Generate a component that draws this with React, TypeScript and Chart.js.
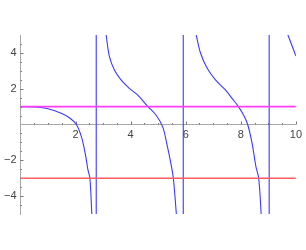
import React, { useEffect, useRef } from 'react';
import { Chart, registerables } from 'chart.js';

Chart.register(...registerables);

// Axis ticks and labels
const xTicks = [2, 4, 6, 8, 10];
const xTickLabels = ['2', '4', '6', '8', '10'];
const yTicks = [-4, -2, 2, 4];
const yTickLabels = ['\u22124', '\u22122', '2', '4'];
const minorStep = 0.5;
const xRange = [0, 10];
const yRange = [-5, 5];

// Curve branches
const branch1X = [0, 0.5, 1.0, 1.5, 1.8, 2.03, 2.21, 2.35, 2.45, 2.52, 2.59];
const branch1Y = [1.0, 0.98, 0.88, 0.62, 0.35, 0, -0.68, -1.61, -2.54, -3.0, -5.0];
const branch2X = [3.11, 3.23, 3.41, 3.65, 3.95, 4.25, 4.61, 4.92, 5.16, 5.31, 5.46, 5.55, 5.66];
const branch2Y = [5.0, 3.79, 3.04, 2.49, 2.02, 1.65, 1.03, 0.53, -0.12, -1.05, -2.17, -3.0, -5.0];
const branch3X = [6.38, 6.54, 6.78, 7.08, 7.44, 7.68, 7.9, 8.1, 8.25, 8.41, 8.55, 8.65, 8.74];
const branch3Y = [5.0, 3.98, 3.14, 2.49, 1.93, 1.46, 1.03, 0.53, 0.0, -1.05, -2.36, -3.0, -5.0];
const branch4X = [9.71, 9.85, 10.0];
const branch4Y = [5.0, 4.44, 3.83];

// Vertical jump lines and horizontal reference levels
const jumpX = [2.75, 5.91, 9.03];
const levelY = [1, -3];

const CURVE = '#3a3aff';
const LEVEL_COLORS = ['#ff3cff', '#ff5c5c'];
const FONT = { family: 'Liberation Sans, Arial, sans-serif', size: 11 };
const LEFT_GUTTER = 20.5;

const zip = (xs: number[], ys: number[]) => xs.map((x, i) => ({ x, y: ys[i] }));

const tickPlugin = {
  id: 'mathTicks',
  beforeDatasetsDraw(chart: any) {
    const { ctx, scales } = chart;
    const xs = scales.x;
    const ys = scales.y;
    const x0 = xs.getPixelForValue(0);
    const y0 = ys.getPixelForValue(0);
    ctx.save();
    ctx.strokeStyle = '#777';
    ctx.lineWidth = 1;
    ctx.beginPath();
    for (let v = xRange[0] + minorStep; v <= xRange[1] + 1e-9; v += minorStep) {
      const px = Math.round(xs.getPixelForValue(v)) + 0.5;
      const len = xTicks.includes(v) ? 3 : 1.5;
      ctx.moveTo(px, y0);
      ctx.lineTo(px, y0 - len);
    }
    for (let v = yRange[0] + minorStep; v <= yRange[1] - minorStep + 1e-9; v += minorStep) {
      if (Math.abs(v) < 1e-9) continue;
      const py = Math.round(ys.getPixelForValue(v)) + 0.5;
      const len = yTicks.includes(v) ? 3 : 1.5;
      ctx.moveTo(x0, py);
      ctx.lineTo(x0 + len, py);
    }
    ctx.stroke();
    ctx.restore();
  },
};

export default function App() {
  const ref = useRef<HTMLCanvasElement>(null);
  useEffect(() => {
    const canvas = ref.current;
    if (!canvas) return;
    const curveStyle = {
      borderColor: CURVE,
      borderWidth: 1.1,
      pointRadius: 0,
      fill: false,
      tension: 0.35,
    };
    const datasets: any[] = [
      ...levelY.map((v, i) => ({
        data: [{ x: xRange[0], y: v }, { x: xRange[1], y: v }],
        borderColor: LEVEL_COLORS[i],
        borderWidth: 1.6,
        pointRadius: 0,
        fill: false,
      })),
      ...jumpX.map((v) => ({
        data: [{ x: v, y: yRange[0] }, { x: v, y: yRange[1] }],
        borderColor: CURVE,
        borderWidth: 1.1,
        pointRadius: 0,
        fill: false,
      })),
      { data: zip(branch1X, branch1Y), ...curveStyle },
      { data: zip(branch2X, branch2Y), ...curveStyle },
      { data: zip(branch3X, branch3Y), ...curveStyle },
      { data: zip(branch4X, branch4Y), ...curveStyle },
    ];
    const chart = new Chart(canvas, {
      type: 'line',
      data: { datasets },
      options: {
        animation: false,
        responsive: false,
        events: [],
        layout: { padding: { left: 0, right: 9, top: 35, bottom: 36 } },
        plugins: { legend: { display: false }, tooltip: { enabled: false } },
        scales: {
          x: {
            type: 'linear',
            min: xRange[0],
            max: xRange[1],
            position: { y: 0 } as any,
            afterFit: (s: any) => { s.height = 0; },
            afterBuildTicks: (s: any) => { s.ticks = xTicks.map((value) => ({ value })); },
            grid: { display: false, drawTicks: false },
            border: { display: true, color: '#a8a8a8', width: 1 },
            ticks: {
              autoSkip: false,
              maxRotation: 0,
              padding: 4,
              color: '#444',
              font: FONT,
              callback: (_v: any, i: number) => xTickLabels[i],
            },
          },
          y: {
            type: 'linear',
            min: yRange[0],
            max: yRange[1],
            position: 'left',
            afterFit: (s: any) => { s.width = LEFT_GUTTER; },
            afterBuildTicks: (s: any) => { s.ticks = yTicks.map((value) => ({ value })); },
            grid: { display: false, drawTicks: false },
            border: { display: true, color: '#a8a8a8', width: 1 },
            ticks: {
              autoSkip: false,
              padding: 4,
              color: '#444',
              font: FONT,
              callback: (_v: any, i: number) => yTickLabels[i],
            },
          },
        },
      },
      plugins: [tickPlugin],
    });
    return () => chart.destroy();
  }, []);
  return (
    <div style={{ position: 'fixed', left: 0, top: 0, width: 306, height: 250, background: '#fff' }}>
      <canvas ref={ref} width={306} height={250} />
    </div>
  );
}
